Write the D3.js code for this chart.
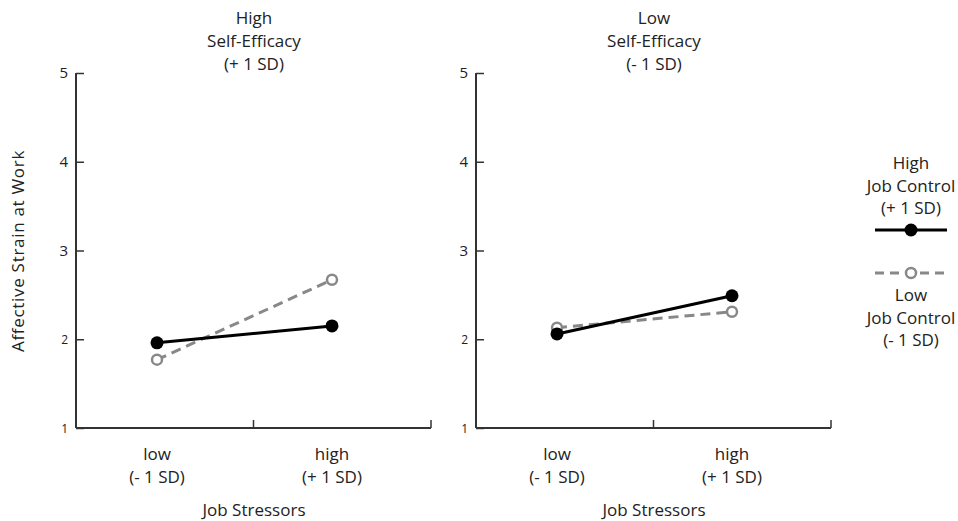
<!DOCTYPE html>
<html>
<head>
<meta charset="utf-8">
<script src="https://cdn.jsdelivr.net/npm/d3@7"></script>
<style>
  body { margin: 0; background: #fff; }
  svg text { font-family: "Open Sans", "DejaVu Sans", sans-serif; fill: #222; }
</style>
</head>
<body>
<svg width="958" height="521"></svg>
<script>
// data
var stressLevels = ["low", "high"];
var stressSub = ["(- 1 SD)", "(+ 1 SD)"];
var panelTitles = [["High", "Self-Efficacy", "(+ 1 SD)"], ["Low", "Self-Efficacy", "(- 1 SD)"]];
var highControl = [[1.96, 2.15], [2.06, 2.49]];   // per panel: low, high stressors
var lowControl = [[1.77, 2.67], [2.13, 2.31]];
var yTicks = [1, 2, 3, 4, 5];

var svg = d3.select("svg");
var panelLeft = [76, 476], panelWidth = 355;
var plotTop = 73, plotBottom = 428;
var fs = "17px";

var y = d3.scaleLinear().domain([1, 5]).range([plotBottom, plotTop]);

// y axis label
svg.append("text")
    .attr("transform", "translate(24,251) rotate(-90)")
    .attr("text-anchor", "middle")
    .style("font-size", "17px")
    .style("letter-spacing", "0.7px")
    .text("Affective Strain at Work");

panelTitles.forEach(function(title, p) {
    var g = svg.append("g").attr("transform", "translate(" + panelLeft[p] + ",0)");
    var x = d3.scaleLinear().domain([0, 1]).range([81, 256]);

    // axes
    var yAxis = d3.axisRight(y).tickValues(yTicks).tickSize(8).tickFormat("");
    var ya = g.append("g").call(yAxis);
    ya.select(".domain").remove();
    ya.selectAll("line").attr("stroke", "#333").attr("stroke-width", 1.5);
    g.append("line").attr("x1", 0).attr("x2", 0).attr("y1", plotTop).attr("y2", plotBottom)
        .attr("stroke", "#333").attr("stroke-width", 2);
    g.selectAll(".ylab").data(yTicks).enter().append("text")
        .attr("class", "ylab")
        .attr("x", -8).attr("y", function(d) { return y(d) + 5; })
        .attr("text-anchor", "end")
        .style("font-size", function(d) { return d > 2 ? "15px" : "12px"; })
        .text(function(d) { return d; });

    g.append("line").attr("x1", 0).attr("x2", panelWidth).attr("y1", plotBottom).attr("y2", plotBottom)
        .attr("stroke", "#333").attr("stroke-width", 2);
    [panelWidth / 2, panelWidth].forEach(function(t) {
        g.append("line").attr("x1", t).attr("x2", t).attr("y1", plotBottom).attr("y2", plotBottom - 8)
            .attr("stroke", "#333").attr("stroke-width", 1.5);
    });

    // titles
    title.forEach(function(t, i) {
        g.append("text").attr("x", 178).attr("y", 24 + i * 23)
            .attr("text-anchor", "middle").style("font-size", fs).text(t);
    });

    // x labels
    stressLevels.forEach(function(s, i) {
        g.append("text").attr("x", x(i)).attr("y", 460).attr("text-anchor", "middle")
            .style("font-size", fs).text(s);
        g.append("text").attr("x", x(i)).attr("y", 483).attr("text-anchor", "middle")
            .style("font-size", fs).text(stressSub[i]);
    });
    g.append("text").attr("x", 178).attr("y", 516).attr("text-anchor", "middle")
        .style("font-size", fs).text("Job Stressors");

    var line = d3.line().x(function(d, i) { return x(i); }).y(function(d) { return y(d); });

    // low job control (grey dashed)
    g.append("path").datum(lowControl[p]).attr("d", line)
        .attr("fill", "none").attr("stroke", "#888").attr("stroke-width", 3)
        .attr("stroke-dasharray", "10,6");
    g.selectAll(".lowpt").data(lowControl[p]).enter().append("circle")
        .attr("class", "lowpt")
        .attr("cx", function(d, i) { return x(i); }).attr("cy", function(d) { return y(d); })
        .attr("r", 5).attr("fill", "#fff").attr("stroke", "#888").attr("stroke-width", 2.5);

    // high job control (black solid)
    g.append("path").datum(highControl[p]).attr("d", line)
        .attr("fill", "none").attr("stroke", "#000").attr("stroke-width", 3);
    g.selectAll(".highpt").data(highControl[p]).enter().append("circle")
        .attr("class", "highpt")
        .attr("cx", function(d, i) { return x(i); }).attr("cy", function(d) { return y(d); })
        .attr("r", 6.5).attr("fill", "#000");
});

// legend
var lg = svg.append("g");
["High", "Job Control", "(+ 1 SD)"].forEach(function(t, i) {
    lg.append("text").attr("x", 911).attr("y", 169 + i * 22.5).attr("text-anchor", "middle")
        .style("font-size", fs).text(t);
});
lg.append("line").attr("x1", 875).attr("x2", 947).attr("y1", 230).attr("y2", 230)
    .attr("stroke", "#000").attr("stroke-width", 3);
lg.append("circle").attr("cx", 911).attr("cy", 230).attr("r", 6.5).attr("fill", "#000");

lg.append("line").attr("x1", 875).attr("x2", 947).attr("y1", 273).attr("y2", 273)
    .attr("stroke", "#888").attr("stroke-width", 3).attr("stroke-dasharray", "9,6");
lg.append("circle").attr("cx", 911).attr("cy", 273).attr("r", 5)
    .attr("fill", "#fff").attr("stroke", "#888").attr("stroke-width", 2.5);
["Low", "Job Control", "(- 1 SD)"].forEach(function(t, i) {
    lg.append("text").attr("x", 911).attr("y", 301 + i * 22.5).attr("text-anchor", "middle")
        .style("font-size", fs).text(t);
});
</script>
</body>
</html>
